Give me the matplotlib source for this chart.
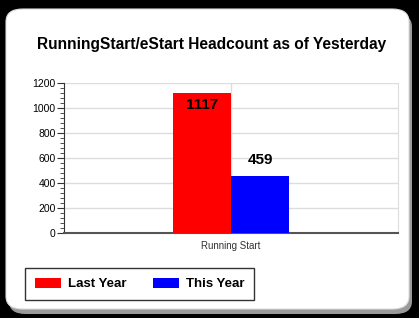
import numpy as np
import matplotlib.pyplot as plt
from matplotlib.patches import FancyBboxPatch, Patch
from matplotlib.ticker import MultipleLocator

# Dữ liệu
categories = ["Running Start"]
series_names = ["Last Year", "This Year"]
last_year = [1117]
this_year = [459]
colors = ["#ff0000", "#0000ff"]

plt.rcParams['font.family'] = ['Liberation Sans', 'DejaVu Sans']

W, H = 419, 318
fig = plt.figure(figsize=(W / 100, H / 100), dpi=100, facecolor="black")

# Khung nền bo góc + bóng đổ
shadow = FancyBboxPatch((9 / W, 4 / H), 403 / W, 300 / H,
                        boxstyle="round,pad=0,rounding_size=0.04",
                        transform=fig.transFigure, facecolor="#9a9a9a",
                        edgecolor="none", zorder=-2)
box = FancyBboxPatch((6 / W, 9 / H), 403 / W, 300 / H,
                     boxstyle="round,pad=0,rounding_size=0.04",
                     transform=fig.transFigure, facecolor="white",
                     edgecolor="#dddddd", linewidth=0.8, zorder=-1)
fig.patches.extend([shadow, box])

fig.text(212 / W, 1 - 45 / H, "RunningStart/eStart Headcount as of Yesterday",
         ha="center", va="center", fontsize=11.2, fontweight="bold")

ax = fig.add_axes([64 / W, (H - 233) / H, (398 - 64) / W, 150 / H])
ax.set_facecolor("white")

x = np.arange(len(categories))
w = 0.1737
b1 = ax.bar(x - w / 2, last_year, w, color=colors[0], zorder=3)
b2 = ax.bar(x + w / 2, this_year, w, color=colors[1], zorder=3)

ax.set_xlim(-0.5, 0.5)
ax.set_ylim(0, 1200)
ax.yaxis.set_major_locator(MultipleLocator(200))
ax.yaxis.set_minor_locator(MultipleLocator(40))
ax.set_xticks(x)
ax.set_xticklabels(categories, fontsize=7, color="#333333")
ax.tick_params(axis="x", length=0, pad=6)
ax.tick_params(axis="y", which="major", length=5, labelsize=7.5, pad=1, color="#333333")
ax.tick_params(axis="y", which="minor", length=3, color="#333333")

ax.grid(axis="y", color="#dddddd", linewidth=1, zorder=0)
ax.axvline(0, color="#dddddd", linewidth=1, zorder=0)
ax.spines["top"].set_visible(False)
ax.spines["right"].set_color("#dddddd")
ax.spines["left"].set_color("#333333")
ax.spines["bottom"].set_color("#555555")
ax.spines["bottom"].set_linewidth(1.5)

# Nhãn giá trị
ax.text(x[0] - w / 2, last_year[0] - 40, str(last_year[0]), ha="center", va="top",
        fontsize=11, fontweight="bold", zorder=4)
ax.text(x[0] + w / 2, this_year[0] + 70, str(this_year[0]), ha="center", va="bottom",
        fontsize=11, fontweight="bold", zorder=4)

handles = [Patch(facecolor=c, edgecolor="none") for c in colors]
leg = fig.legend(handles, series_names, ncol=2, loc="center left",
                 bbox_to_anchor=(25 / W, 1 - 284 / H), frameon=True, fancybox=False,
                 prop={"size": 9.5, "weight": "bold"}, handlelength=2.0, handleheight=0.8,
                 columnspacing=2.0, borderpad=0.75, handletextpad=0.5, borderaxespad=0)
leg.get_frame().set_edgecolor("black")
leg.get_frame().set_linewidth(1)
leg.set_zorder(5)

fig.savefig("out.png", dpi=100, facecolor="black")
